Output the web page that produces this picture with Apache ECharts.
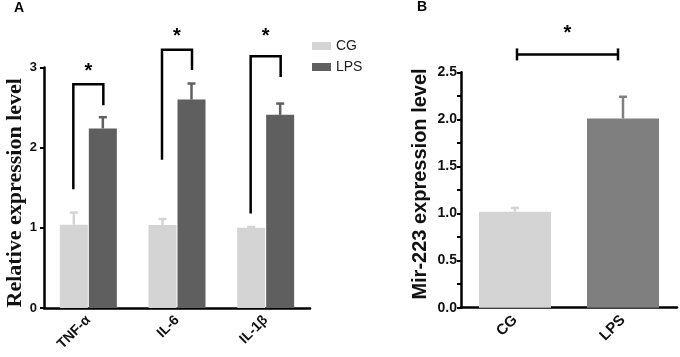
<!DOCTYPE html>
<html>
<head>
<meta charset="utf-8">
<script src="https://cdn.jsdelivr.net/npm/echarts@6/dist/echarts.min.js"></script>
<style>
  html, body { margin: 0; padding: 0; background: #fff; }
  #main { width: 680px; height: 357px; }
</style>
</head>
<body>
<div id="main"></div>
<script>
// panel A: cytokines
var genes = ['TNF-α', 'IL-6', 'IL-1β'];
var cgA = [1.04, 1.035, 1.0];
var cgErrA = [0.15, 0.075, 0.01];
var lpsA = [2.24, 2.6, 2.41];
var lpsErrA = [0.14, 0.2, 0.14];
// bracket levels: top, left foot, right foot, star
var brTop = [2.79, 3.22, 3.14];
var brLeft = [1.48, 1.85, 1.18];
var brRight = [2.53, 2.97, 2.88];
var starA = [3.0, 3.44, 3.44];

// panel B: Mir-223
var groupsB = ['CG', 'LPS'];
var mirB = [1.02, 2.01];
var mirErrB = [0.04, 0.23];
var brB = 2.69;
var starB = 2.96;

var C_CG = '#d4d4d4', C_LPS = '#5f5f5f', C_LPS_B = '#7f7f7f';
var SANS = 'Arial, "Liberation Sans", sans-serif';
var BAR_A = 28, GAP_A = 1;

var chart = echarts.init(document.getElementById('main'));

function errBar(side, color, barW, gap) {
    return function (params, api) {
        var idx = api.value(0), v = api.value(1), e = api.value(2);
        var base = api.coord([idx, v]);
        var top = api.coord([idx, v + e]);
        var x = base[0] + side * (barW + gap) / 2;
        return {
            type: 'group',
            children: [{
                type: 'line',
                shape: { x1: x, y1: base[1], x2: x, y2: top[1] },
                style: { stroke: color, lineWidth: 2.5 }
            }, {
                type: 'line',
                shape: { x1: x - 4, y1: top[1], x2: x + 4, y2: top[1] },
                style: { stroke: color, lineWidth: 2.5 }
            }]
        };
    };
}

function withIdx(vals, errs) {
    return vals.map(function (v, i) { return [i, v, errs[i]]; });
}

var axisLine = { show: true, lineStyle: { color: '#000', width: 2.5 } };

chart.setOption({
    animation: false,
    textStyle: { fontFamily: SANS },
    grid: [
        { left: 44, width: 266, top: 67.5, bottom: 49 },
        { left: 461, width: 216, top: 72.3, bottom: 49.3 }
    ],
    title: [
        { text: 'A', left: 9, top: -4, textStyle: { fontSize: 14, fontWeight: 'bold', color: '#000' } },
        { text: 'B', left: 412, top: -5, textStyle: { fontSize: 14, fontWeight: 'bold', color: '#000' } }
    ],
    legend: {
        data: ['CG', 'LPS'],
        orient: 'vertical',
        left: 307,
        top: 34,
        itemWidth: 19,
        itemHeight: 8,
        itemGap: 7,
        icon: 'rect',
        textStyle: { fontSize: 14, color: '#222', fontFamily: SANS }
    },
    xAxis: [{
        type: 'category', gridIndex: 0, data: genes,
        axisLine: axisLine,
        axisTick: { alignWithLabel: true, length: 5, lineStyle: { width: 2.5, color: '#000' } },
        axisLabel: { rotate: 45, fontSize: 14, fontWeight: 'bold', color: '#111', margin: 10 }
    }, {
        type: 'category', gridIndex: 1, data: groupsB,
        axisLine: axisLine,
        axisTick: { alignWithLabel: true, length: 5, lineStyle: { width: 2.5, color: '#000' } },
        axisLabel: { rotate: 45, fontSize: 15, fontWeight: 'bold', color: '#111', margin: 10 }
    }],
    yAxis: [{
        type: 'value', gridIndex: 0, min: 0, max: 3, interval: 1,
        name: 'Relative expression level', nameLocation: 'middle', nameGap: 18,
        nameTextStyle: { fontFamily: '"Liberation Serif", "DejaVu Serif", serif', fontWeight: 'bold', fontSize: 22, color: '#111',
            padding: [0, 10, 0, 0] },
        axisLine: axisLine,
        axisTick: { show: true, length: 4, lineStyle: { width: 2, color: '#000' } },
        axisLabel: { fontSize: 13, fontWeight: 'bold', color: '#111', margin: 7 },
        splitLine: { show: false }
    }, {
        type: 'value', gridIndex: 1, min: 0, max: 2.5, interval: 0.5,
        name: 'Mir-223 expression level', nameLocation: 'middle', nameGap: 31,
        nameTextStyle: { fontWeight: 'bold', fontSize: 20, color: '#111', padding: [0, 0, 0, 12] },
        axisLine: axisLine,
        axisTick: { show: true, length: 4, lineStyle: { width: 2, color: '#000' } },
        minorTick: { show: true, splitNumber: 2, length: 4, lineStyle: { width: 2, color: '#000' } },
        axisLabel: { fontSize: 14, fontWeight: 'bold', color: '#111', margin: 4,
            formatter: function (v) { return v.toFixed(1); } },
        splitLine: { show: false }
    }],
    series: [{
        name: 'CG', type: 'bar', xAxisIndex: 0, yAxisIndex: 0,
        data: cgA, barWidth: BAR_A, barGap: (GAP_A / BAR_A * 100) + '%',
        itemStyle: { color: C_CG }
    }, {
        name: 'LPS', type: 'bar', xAxisIndex: 0, yAxisIndex: 0,
        data: lpsA, barWidth: BAR_A,
        itemStyle: { color: C_LPS }
    }, {
        type: 'custom', xAxisIndex: 0, yAxisIndex: 0, z: 1,
        renderItem: errBar(-1, C_CG, BAR_A, GAP_A), data: withIdx(cgA, cgErrA)
    }, {
        type: 'custom', xAxisIndex: 0, yAxisIndex: 0, z: 1,
        renderItem: errBar(1, C_LPS, BAR_A, GAP_A), data: withIdx(lpsA, lpsErrA)
    }, {
        type: 'custom', xAxisIndex: 0, yAxisIndex: 0, clip: false,
        data: genes.map(function (g, i) { return [i, brTop[i], brLeft[i], brRight[i], starA[i]]; }),
        renderItem: function (params, api) {
            var i = api.value(0);
            var c = api.coord([i, api.value(1)]);
            var xl = c[0] - 15, xr = c[0] + 15;
            var yl = api.coord([i, api.value(2)])[1];
            var yr = api.coord([i, api.value(3)])[1];
            var s = api.coord([i, api.value(4)]);
            return {
                type: 'group',
                children: [{
                    type: 'polyline',
                    shape: { points: [[xl, yl], [xl, c[1]], [xr, c[1]], [xr, yr]] },
                    style: { stroke: '#000', lineWidth: 2.5, fill: null }
                }, {
                    type: 'text',
                    style: { text: '*', x: s[0], y: s[1] + 4, align: 'center', verticalAlign: 'middle',
                        font: 'bold 20px Arial, "Liberation Sans", sans-serif', fill: '#000' }
                }]
            };
        }
    }, {
        name: 'Mir-223', type: 'bar', xAxisIndex: 1, yAxisIndex: 1,
        barWidth: 72,
        data: mirB.map(function (v, i) {
            return { value: v, itemStyle: { color: i === 0 ? C_CG : C_LPS_B } };
        })
    }, {
        type: 'custom', xAxisIndex: 1, yAxisIndex: 1, z: 1,
        data: withIdx(mirB, mirErrB),
        renderItem: function (params, api) {
            var col = api.value(0) === 0 ? C_CG : C_LPS_B;
            return errBar(0, col, 0, 0)(params, api);
        }
    }, {
        type: 'custom', xAxisIndex: 1, yAxisIndex: 1, clip: false,
        data: [[0, brB, starB]],
        renderItem: function (params, api) {
            var a = api.coord([0, api.value(1)]);
            var b = api.coord([1, api.value(1)]);
            var s = api.coord([0.5, api.value(2)]);
            var xl = a[0] + 2, xr = b[0] - 5;
            return {
                type: 'group',
                children: [{
                    type: 'line', shape: { x1: xl, y1: a[1], x2: xr, y2: a[1] },
                    style: { stroke: '#000', lineWidth: 2.5 }
                }, {
                    type: 'line', shape: { x1: xl, y1: a[1] - 6, x2: xl, y2: a[1] + 6 },
                    style: { stroke: '#000', lineWidth: 2.5 }
                }, {
                    type: 'line', shape: { x1: xr, y1: a[1] - 6, x2: xr, y2: a[1] + 6 },
                    style: { stroke: '#000', lineWidth: 2.5 }
                }, {
                    type: 'text',
                    style: { text: '*', x: (xl + xr) / 2, y: s[1] + 4, align: 'center', verticalAlign: 'middle',
                        font: 'bold 20px Arial, "Liberation Sans", sans-serif', fill: '#000' }
                }]
            };
        }
    }]
});
</script>
</body>
</html>
